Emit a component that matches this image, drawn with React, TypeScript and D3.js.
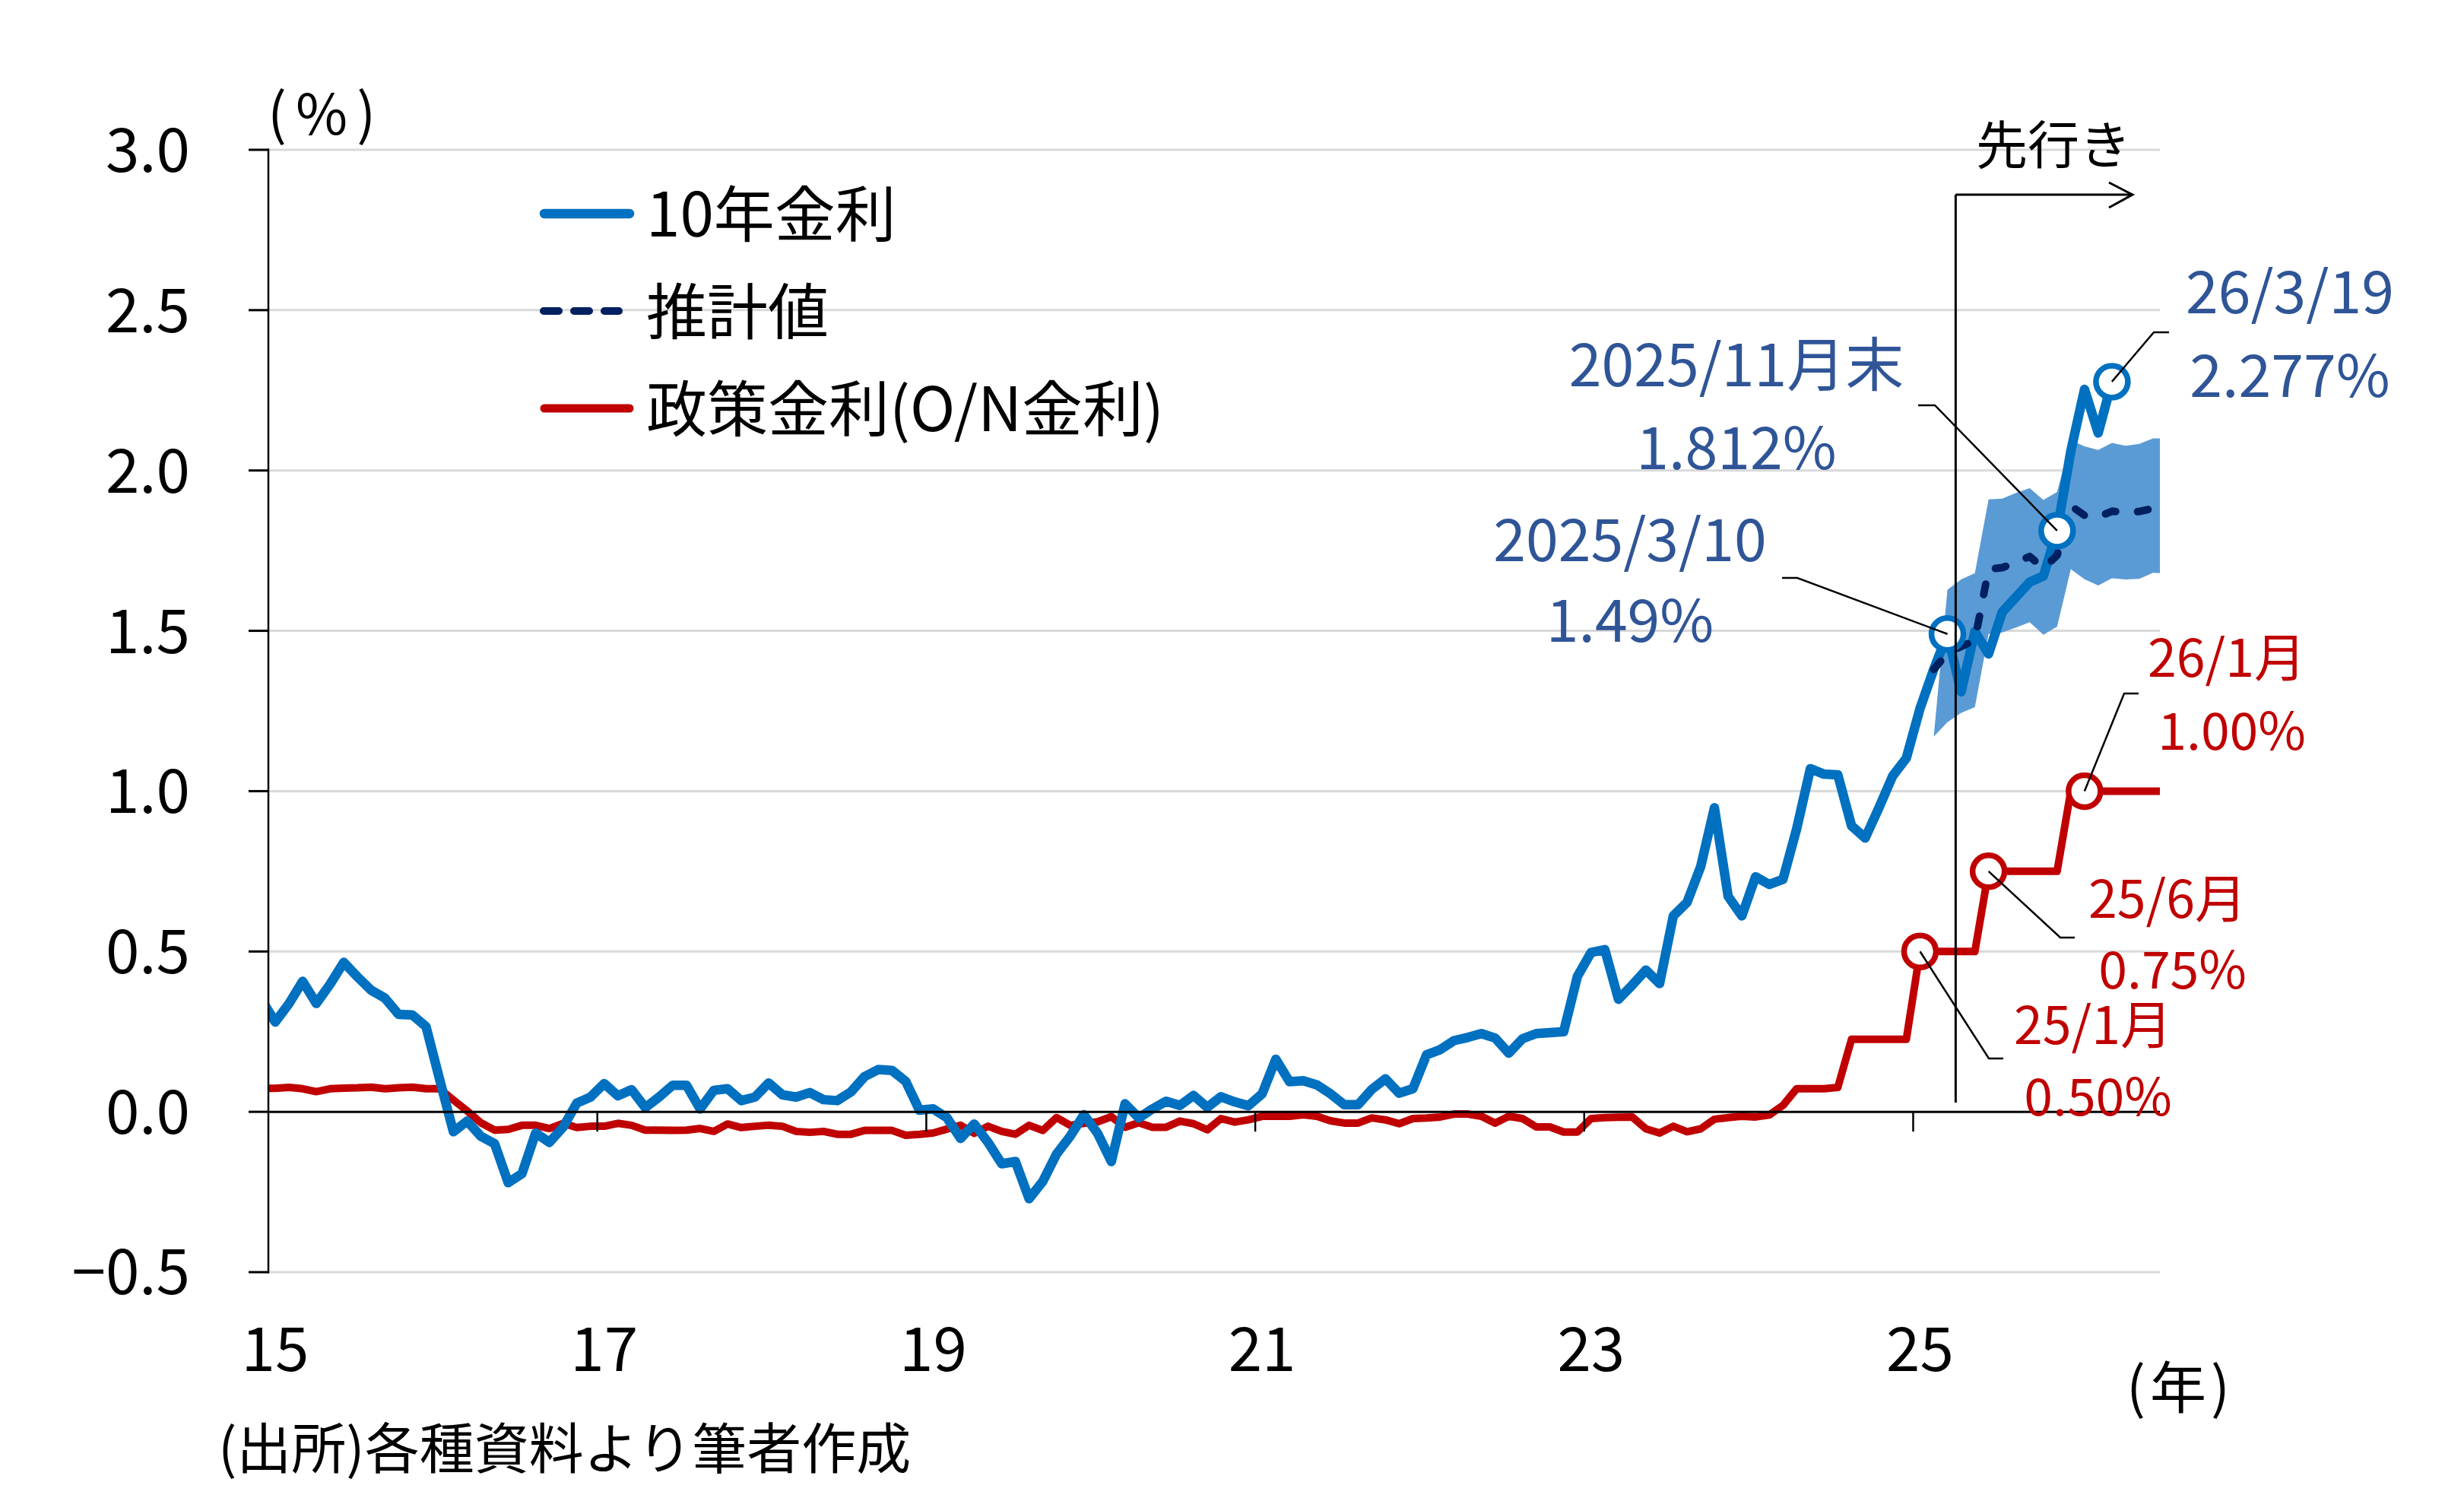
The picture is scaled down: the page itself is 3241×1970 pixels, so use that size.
import React from 'react';
import * as d3 from 'd3';

// ---------- data (month index 0 = 2015/1) ----------
const jgbStartMonth = -1; // 2014/12
const jgb10y = [
  0.35,
  0.28, 0.337, 0.407, 0.338, 0.398, 0.466, 0.421, 0.379, 0.355, 0.304, 0.302, 0.266,
  0.10, -0.062, -0.029, -0.076, -0.099, -0.221, -0.193, -0.066, -0.095, -0.048, 0.027, 0.046,
  0.088, 0.05, 0.069, 0.013, 0.046, 0.083, 0.083, 0.009, 0.067, 0.072, 0.035, 0.046,
  0.09, 0.053, 0.046, 0.06, 0.038, 0.035, 0.062, 0.11, 0.132, 0.129, 0.095, 0.005,
  0.009, -0.018, -0.083, -0.038, -0.095, -0.162, -0.155, -0.271, -0.217, -0.132, -0.076, -0.009,
  -0.067, -0.155, 0.025, -0.019, 0.009, 0.033, 0.02, 0.051, 0.014, 0.047, 0.031, 0.019,
  0.056, 0.164, 0.094, 0.097, 0.084, 0.056, 0.022, 0.022, 0.07, 0.103, 0.058, 0.072,
  0.178, 0.194, 0.222, 0.232, 0.244, 0.23, 0.183, 0.228, 0.244, 0.247, 0.25, 0.422,
  0.497, 0.506, 0.351, 0.395, 0.442, 0.40, 0.611, 0.653, 0.765, 0.948, 0.672, 0.611,
  0.733, 0.709, 0.725, 0.883, 1.07, 1.053, 1.051, 0.892, 0.854, 0.948, 1.047, 1.103,
  1.258, 1.38, 1.49, 1.31, 1.498, 1.428, 1.559, 1.605, 1.652, 1.671, 1.812, 2.06,
  2.253, 2.117, 2.277,
];

const policyStartMonth = -1;
const policyRate = [
  0.073,
  0.073, 0.076, 0.072, 0.063, 0.072, 0.074, 0.075, 0.077, 0.072, 0.075, 0.077, 0.072,
  0.072, 0.037, 0.003, -0.034, -0.057, -0.055, -0.042, -0.042, -0.052, -0.036, -0.049, -0.045,
  -0.045, -0.036, -0.042, -0.057, -0.057, -0.058, -0.057, -0.052, -0.061, -0.038, -0.049, -0.045,
  -0.042, -0.045, -0.061, -0.064, -0.061, -0.070, -0.070, -0.058, -0.058, -0.058, -0.073, -0.070,
  -0.066, -0.054, -0.042, -0.067, -0.045, -0.061, -0.070, -0.042, -0.058, -0.018, -0.042, -0.036,
  -0.031, -0.015, -0.048, -0.034, -0.048, -0.048, -0.029, -0.037, -0.056, -0.021, -0.032, -0.025,
  -0.014, -0.014, -0.014, -0.009, -0.014, -0.028, -0.035, -0.035, -0.019, -0.025, -0.037, -0.021,
  -0.019, -0.016, -0.007, -0.007, -0.014, -0.035, -0.014, -0.021, -0.047, -0.047, -0.063, -0.063,
  -0.021, -0.018, -0.017, -0.016, -0.053, -0.066, -0.045, -0.062, -0.053, -0.023, -0.018, -0.014,
  -0.016, -0.010, 0.02, 0.072, 0.072, 0.072, 0.076, 0.226, 0.226, 0.226, 0.226, 0.226,
  0.5, 0.5, 0.5, 0.5, 0.5, 0.75, 0.75, 0.75, 0.75, 0.75, 0.75, 1.0,
  1.0, 1.0, 1.0, 1.0, 1.0, 1.0, 1.0,
];

const estStartMonth = 121; // 2025/2
const estimate = [1.38, 1.43, 1.451, 1.47, 1.692, 1.697, 1.713, 1.732, 1.695, 1.735, 1.89,
  1.86, 1.855, 1.873, 1.869, 1.872, 1.882, 1.895];
const bandUpper = [1.17, 1.628, 1.66, 1.68, 1.91, 1.912, 1.93, 1.945, 1.908, 1.933, 2.095,
  2.075, 2.064, 2.086, 2.077, 2.083, 2.10, 2.10];
const bandLower = [1.17, 1.215, 1.244, 1.262, 1.49, 1.495, 1.51, 1.527, 1.488, 1.513, 1.692,
  1.661, 1.641, 1.664, 1.66, 1.662, 1.681, 1.678];

const yTicks = [-0.5, 0, 0.5, 1.0, 1.5, 2.0, 2.5, 3.0];
const xTickYears = [15, 17, 19, 21, 23, 25];
const monthsTotal = 138; // 2015/1 .. 2026/6
const forecastLineMonth = 123.1;

const blueMarkers = [
  { m: 122, v: 1.49, l1: '2025/3/10', l2: '1.49%' },
  { m: 130, v: 1.812, l1: '2025/11月末', l2: '1.812%' },
  { m: 134, v: 2.277, l1: '26/3/19', l2: '2.277%' },
];
const redMarkers = [
  { m: 120, v: 0.5, l1: '25/1月', l2: '0.50%' },
  { m: 125, v: 0.75, l1: '25/6月', l2: '0.75%' },
  { m: 132, v: 1.0, l1: '26/1月', l2: '1.00%' },
];

// ---------- layout ----------
const W = 3241, H = 1970;
const L = 353, R = 2841, T = 197, B = 1673;
const FONT = '"Noto Sans CJK JP", "Noto Sans", sans-serif';
const BLUE = '#0070C0', NAVY = '#002060', RED = '#C00000', BAND = '#5B9BD5';
const BLUE_TXT = '#2F5597';

const x = d3.scaleLinear().domain([0, monthsTotal]).range([L, R]);
const y = d3.scaleLinear().domain([-0.5, 3.0]).range([B, T]);
const px = (m: number) => x(m + 0.5);

type P = [number, number];
const toPts = (start: number, arr: number[]): P[] => arr.map((v, i) => [start + i, v]);
const line = d3.line<P>().x(d => px(d[0])).y(d => y(d[1]));

const bandPts = bandUpper.map((u, i) => ({ m: estStartMonth + i, u, l: bandLower[i] }));
const area = d3.area<{ m: number; u: number; l: number }>()
  .x(d => px(d.m)).y0(d => y(d.l)).y1(d => y(d.u));

// label layout (leader elbow points and text anchors)
const blueLabelPos = [
  { tx: 2144, b1: 738, b2: 844, lead: [[2344, 760], [2364, 760]] },
  { tx: 2284, b1: 508, b2: 617, lead: [[2523, 533], [2545, 533]] },
  { tx: 3012, b1: 412, b2: 522, lead: [[2853, 437], [2833, 437]] },
];
const redLabelPos = [
  { tx: 2857, b1: 1373, b2: 1467, lead: [[2635, 1392], [2616, 1392]] },
  { tx: 2955, b1: 1207, b2: 1300, lead: [[2729, 1233], [2710, 1233]] },
  { tx: 3033, b1: 890, b2: 986, lead: [[2813, 912], [2794, 912]] },
];

export default function App() {
  const y0 = y(0);
  return (
    <svg width={W} height={H} viewBox={`0 0 ${W} ${H}`}
      style={{ position: 'absolute', left: 0, top: 0, background: '#fff' }}
      fontFamily={FONT}>
      <defs>
        <clipPath id="plot"><rect x={L} y={0} width={R - L} height={H} /></clipPath>
      </defs>
      <rect x={0} y={0} width={W} height={H} fill="#fff" />

      {/* gridlines */}
      {yTicks.filter(t => t !== 0).map(t => (
        <line key={t} x1={L} x2={R} y1={y(t)} y2={y(t)} stroke="#D9D9D9" strokeWidth={3} />
      ))}

      {/* y labels */}
      {yTicks.map(t => (
        <text key={'yl' + t} x={250} y={y(t) + 29} fontSize={80} textAnchor="end" fill="#000">
          {t < 0 ? '−' + Math.abs(t).toFixed(1) : t.toFixed(1)}
        </text>
      ))}
      <text x={352} y={177} fontSize={74} letterSpacing={12} fill="#000">(%)</text>

      {/* band + series */}
      <g clipPath="url(#plot)">
        <path d={area(bandPts) || ''} fill={BAND} />
        <path d={line(toPts(policyStartMonth, policyRate)) || ''} fill="none" stroke={RED}
          strokeWidth={10} strokeLinejoin="round" />
        <path d={line(toPts(jgbStartMonth, jgb10y)) || ''} fill="none" stroke={BLUE}
          strokeWidth={12.5} strokeLinejoin="round" strokeLinecap="round" />
        <path d={line(toPts(estStartMonth, estimate)) || ''} fill="none" stroke={NAVY}
          strokeWidth={10} strokeDasharray="14 29" strokeLinecap="round" strokeLinejoin="round" />
      </g>

      {/* axes */}
      <line x1={L} x2={R} y1={y0} y2={y0} stroke="#000" strokeWidth={3} />
      <line x1={L} x2={L} y1={T - 1.5} y2={B + 1.5} stroke="#000" strokeWidth={2.5} />
      {yTicks.map(t => (
        <line key={'yt' + t} x1={327} x2={L} y1={y(t)} y2={y(t)} stroke="#000" strokeWidth={3} />
      ))}
      {xTickYears.slice(1).map(yr => (
        <line key={'xt' + yr} x1={x((yr - 15) * 12)} x2={x((yr - 15) * 12)} y1={y0} y2={y0 + 26}
          stroke="#000" strokeWidth={2.5} />
      ))}
      {xTickYears.map(yr => (
        <text key={'xl' + yr} x={px((yr - 15) * 12)} y={1803} fontSize={80} textAnchor="middle" fill="#000">
          {yr}
        </text>
      ))}
      <text x={2797} y={1852} fontSize={74} letterSpacing={6} fill="#000">(年)</text>
      <text x={287} y={1931} fontSize={72} fill="#000">(出所)各種資料より筆者作成</text>

      {/* markers */}
      {blueMarkers.map(mk => (
        <circle key={'bm' + mk.m} cx={px(mk.m)} cy={y(mk.v)} r={21} fill="#fff" stroke={BLUE} strokeWidth={7.5} />
      ))}
      {redMarkers.map(mk => (
        <circle key={'rm' + mk.m} cx={px(mk.m)} cy={y(mk.v)} r={21} fill="#fff" stroke={RED} strokeWidth={7.5} />
      ))}

      {/* leader lines */}
      {blueMarkers.map((mk, i) => {
        const p = blueLabelPos[i];
        const pts = [...p.lead, [px(mk.m), y(mk.v)]].map(q => q.join(',')).join(' ');
        return <polyline key={'bl' + i} points={pts} fill="none" stroke="#000" strokeWidth={2.5} />;
      })}
      {redMarkers.map((mk, i) => {
        const p = redLabelPos[i];
        const pts = [...p.lead, [px(mk.m), y(mk.v)]].map(q => q.join(',')).join(' ');
        return <polyline key={'rl' + i} points={pts} fill="none" stroke="#000" strokeWidth={2.5} />;
      })}

      {/* forecast separator */}
      <line x1={px(forecastLineMonth - 0.5)} x2={px(forecastLineMonth - 0.5)} y1={256} y2={1450} stroke="#000" strokeWidth={3} />
      <line x1={px(forecastLineMonth - 0.5)} x2={2805} y1={256} y2={256} stroke="#000" strokeWidth={3} />
      <polyline points="2774,240 2805,256 2774,273" fill="none" stroke="#000" strokeWidth={3} />
      <text x={2701} y={216} fontSize={68} textAnchor="middle" fill="#000">先行き</text>

      {/* annotation labels */}
      {blueMarkers.map((mk, i) => (
        <g key={'bt' + i} fill={BLUE_TXT} fontSize={77} textAnchor="middle">
          <text x={blueLabelPos[i].tx} y={blueLabelPos[i].b1}>{mk.l1}</text>
          <text x={blueLabelPos[i].tx} y={blueLabelPos[i].b2}>{mk.l2}</text>
        </g>
      ))}
      {redMarkers.map((mk, i) => (
        <g key={'rt' + i} fill={RED} fontSize={68} textAnchor="end">
          <text x={redLabelPos[i].tx} y={redLabelPos[i].b1}>{mk.l1}</text>
          <text x={redLabelPos[i].tx} y={redLabelPos[i].b2}>{mk.l2}</text>
        </g>
      ))}

      {/* legend */}
      <line x1={716} x2={828} y1={281} y2={281} stroke={BLUE} strokeWidth={12.5} strokeLinecap="round" />
      <line x1={715} x2={814} y1={409} y2={409} stroke={NAVY} strokeWidth={10} strokeLinecap="round" strokeDasharray="20 20" />
      <line x1={716} x2={828} y1={537} y2={537} stroke={RED} strokeWidth={11} strokeLinecap="round" />
      <g fontSize={80} fill="#000">
        <text x={850} y={311}>10年金利</text>
        <text x={850} y={439}>推計値</text>
        <text x={850} y={567}>政策金利(O/N金利)</text>
      </g>
    </svg>
  );
}
